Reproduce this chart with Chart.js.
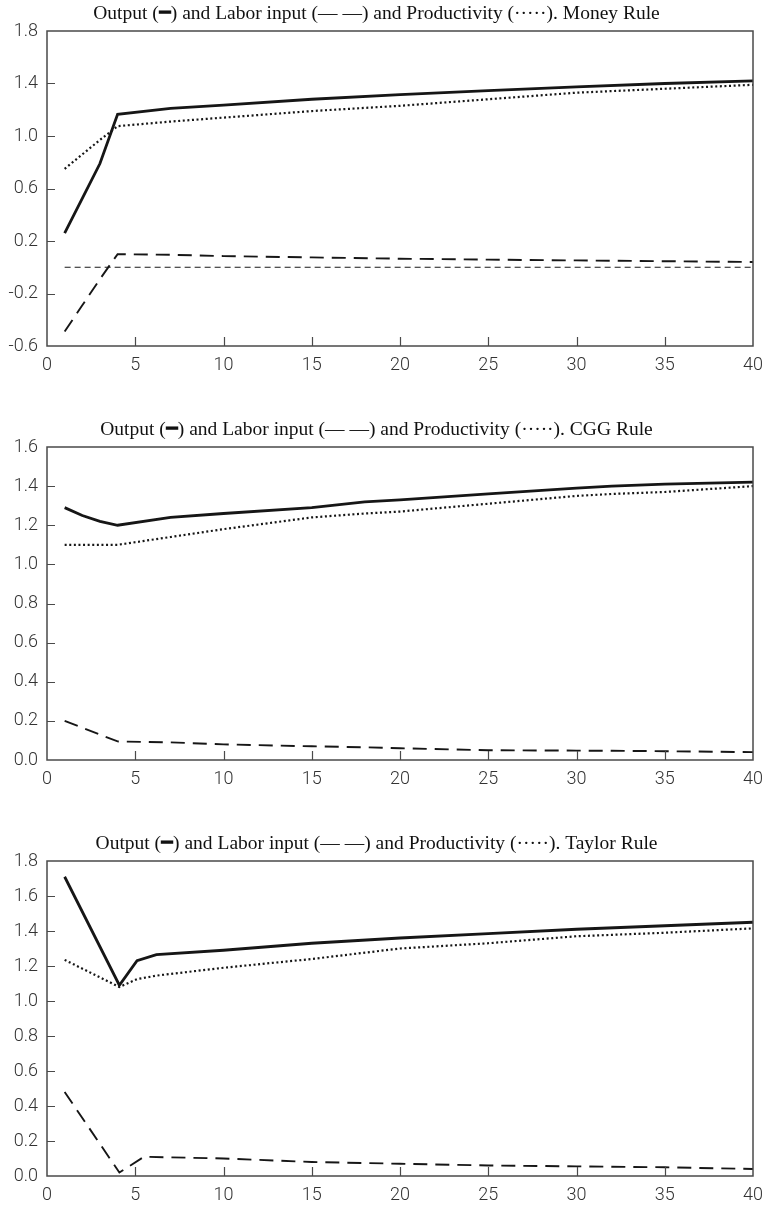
<!DOCTYPE html>
<html>
<head>
<meta charset="utf-8">
<script src="https://cdn.jsdelivr.net/npm/chart.js@4"></script>
<style>
  html, body { margin: 0; padding: 0; background: #fff; }
  body { width: 766px; height: 1205px; position: relative; overflow: hidden; }
  .box { position: absolute; left: 0; width: 766px; }
</style>
</head>
<body>
<div class="box" id="b1" style="top:0px;height:374px;"><canvas id="c1"></canvas></div>
<div class="box" id="b2" style="top:416px;height:372px;"><canvas id="c2"></canvas></div>
<div class="box" id="b3" style="top:830px;height:374px;"><canvas id="c3"></canvas></div>
<script>
// ---------- Data: Money Rule ----------
const moneyPeriods      = [1, 2, 3, 4, 7, 10, 15, 20, 25, 30, 35, 40];
const moneyOutput       = [0.26, 0.525, 0.79, 1.165, 1.21, 1.235, 1.28, 1.315, 1.345, 1.375, 1.40, 1.42];
const moneyLabor        = [-0.49, -0.29, -0.09, 0.10, 0.095, 0.085, 0.075, 0.065, 0.058, 0.052, 0.046, 0.04];
const moneyProductivity = [0.75, 0.86, 0.97, 1.075, 1.11, 1.14, 1.19, 1.23, 1.28, 1.33, 1.36, 1.39];
const moneyZero         = [0, 0, 0, 0, 0, 0, 0, 0, 0, 0, 0, 0];
const moneyTicksY       = [-0.6, -0.2, 0.2, 0.6, 1.0, 1.4, 1.8];

// ---------- Data: CGG Rule ----------
const cggPeriods      = [1, 2, 3, 4, 7, 10, 15, 18, 20, 25, 30, 32, 35, 40];
const cggOutput       = [1.29, 1.25, 1.22, 1.20, 1.24, 1.26, 1.29, 1.32, 1.33, 1.36, 1.39, 1.40, 1.41, 1.42];
const cggLabor        = [0.20, 0.165, 0.13, 0.095, 0.09, 0.08, 0.07, 0.065, 0.06, 0.05, 0.048, 0.047, 0.045, 0.04];
const cggProductivity = [1.10, 1.10, 1.10, 1.10, 1.14, 1.18, 1.24, 1.26, 1.27, 1.31, 1.35, 1.36, 1.37, 1.40];
const cggTicksY       = [0.0, 0.2, 0.4, 0.6, 0.8, 1.0, 1.2, 1.4, 1.6];

// ---------- Data: Taylor Rule ----------
const taylorPeriods      = [1, 4.1, 5.1, 6.2, 10, 15, 20, 25, 30, 35, 40];
const taylorOutput       = [1.71, 1.09, 1.23, 1.265, 1.29, 1.33, 1.36, 1.385, 1.41, 1.43, 1.45];
const taylorProductivity = [1.235, 1.08, 1.125, 1.145, 1.19, 1.24, 1.30, 1.33, 1.37, 1.39, 1.415];
const taylorLaborPeriods = [1, 4.1, 5.5, 10, 15, 20, 25, 30, 35, 40];
const taylorLabor        = [0.48, 0.02, 0.11, 0.10, 0.08, 0.07, 0.06, 0.055, 0.05, 0.04];
const taylorTicksY       = [0.0, 0.2, 0.4, 0.6, 0.8, 1.0, 1.2, 1.4, 1.6, 1.8];

const xTicks = [0, 5, 10, 15, 20, 25, 30, 35, 40];

const titles = [
  'Output (\u2501) and Labor input (\u2014 \u2014) and Productivity (\u00b7\u00b7\u00b7\u00b7\u00b7). Money Rule',
  'Output (\u2501) and Labor input (\u2014 \u2014) and Productivity (\u00b7\u00b7\u00b7\u00b7\u00b7). CGG Rule',
  'Output (\u2501) and Labor input (\u2014 \u2014) and Productivity (\u00b7\u00b7\u00b7\u00b7\u00b7). Taylor Rule'
];

function pts(xs, ys) { return xs.map((x, i) => ({ x: x, y: ys[i] })); }

const STYLE = {
  output:  { borderColor: '#161616', borderWidth: 2.8, borderDash: [] },
  labor:   { borderColor: '#161616', borderWidth: 1.9, borderDash: [14, 8] },
  prod:    { borderColor: '#161616', borderWidth: 2.2, borderDash: [2, 2.6] },
  zero:    { borderColor: '#1a1a1a', borderWidth: 1.2, borderDash: [6, 4] }
};

function ds(label, data, st) {
  return Object.assign({
    label: label, data: data, pointRadius: 0, tension: 0, fill: false,
    borderCapStyle: 'butt', borderJoinStyle: 'miter'
  }, st);
}

const framePlugin = {
  id: 'frame',
  afterDatasetsDraw(chart) {
    const a = chart.chartArea, ctx = chart.ctx;
    const xs = chart.scales.x, ys = chart.scales.y;
    ctx.save();
    ctx.strokeStyle = '#4a4a4a';
    ctx.lineWidth = 1.5;
    ctx.strokeRect(a.left, a.top, a.right - a.left, a.bottom - a.top);
    ctx.lineWidth = 1.2;
    ctx.beginPath();
    xs.ticks.forEach(t => {
      if (t.value <= xs.min || t.value >= xs.max) return;
      const px = Math.round(xs.getPixelForValue(t.value)) + 0.5;
      ctx.moveTo(px, a.bottom); ctx.lineTo(px, a.bottom - 9);
    });
    ys.ticks.forEach(t => {
      if (t.value <= ys.min + 1e-9 || t.value >= ys.max - 1e-9) return;
      const py = Math.round(ys.getPixelForValue(t.value)) + 0.5;
      ctx.moveTo(a.left, py); ctx.lineTo(a.left + 8, py);
    });
    ctx.stroke();
    ctx.restore();
  }
};

function makeChart(id, title, datasets, yTicks) {
  const yStep = Math.round((yTicks[1] - yTicks[0]) * 10) / 10;
  return new Chart(document.getElementById(id), {
    type: 'line',
    data: { datasets: datasets },
    options: {
      responsive: true,
      maintainAspectRatio: false,
      animation: false,
      events: [],
      layout: { padding: { left: 0, right: 13, top: 0, bottom: 0 } },
      plugins: {
        legend: { display: false },
        tooltip: { enabled: false },
        title: {
          display: true, text: title, color: '#111',
          font: { family: '"Liberation Serif", "Times New Roman", serif', size: 19.5, weight: 'normal', lineHeight: 1.2 },
          padding: { top: 2.5, bottom: 5.1 }
        }
      },
      scales: {
        x: {
          type: 'linear', min: xTicks[0], max: xTicks[xTicks.length - 1],
          grid: { display: false, drawTicks: false },
          border: { display: false },
          ticks: {
            stepSize: xTicks[1] - xTicks[0], padding: 9, color: '#333',
            font: { family: 'Roboto', size: 18, weight: '300' },
            maxRotation: 0, autoSkip: false
          },
          afterFit(s) { s.height = 28; s.paddingLeft = 0; s.paddingRight = 0; }
        },
        y: {
          type: 'linear', min: yTicks[0], max: yTicks[yTicks.length - 1],
          grid: { display: false, drawTicks: false },
          border: { display: false },
          ticks: {
            stepSize: yStep, padding: 9, color: '#333',
            font: { family: 'Roboto', size: 18, weight: '300' },
            callback: v => (Math.abs(v) < 1e-9 ? 0 : v).toFixed(1)
          },
          afterFit(s) { s.width = 47; s.paddingTop = 0; s.paddingBottom = 0; }
        }
      }
    },
    plugins: [framePlugin]
  });
}

makeChart('c1', titles[0], [
  ds('Zero', pts(moneyPeriods, moneyZero), STYLE.zero),
  ds('Productivity', pts(moneyPeriods, moneyProductivity), STYLE.prod),
  ds('Labor input', pts(moneyPeriods, moneyLabor), STYLE.labor),
  ds('Output', pts(moneyPeriods, moneyOutput), STYLE.output)
], moneyTicksY);

makeChart('c2', titles[1], [
  ds('Productivity', pts(cggPeriods, cggProductivity), STYLE.prod),
  ds('Labor input', pts(cggPeriods, cggLabor), STYLE.labor),
  ds('Output', pts(cggPeriods, cggOutput), STYLE.output)
], cggTicksY);

makeChart('c3', titles[2], [
  ds('Productivity', pts(taylorPeriods, taylorProductivity), STYLE.prod),
  ds('Labor input', pts(taylorLaborPeriods, taylorLabor), STYLE.labor),
  ds('Output', pts(taylorPeriods, taylorOutput), STYLE.output)
], taylorTicksY);
</script>
</body>
</html>
